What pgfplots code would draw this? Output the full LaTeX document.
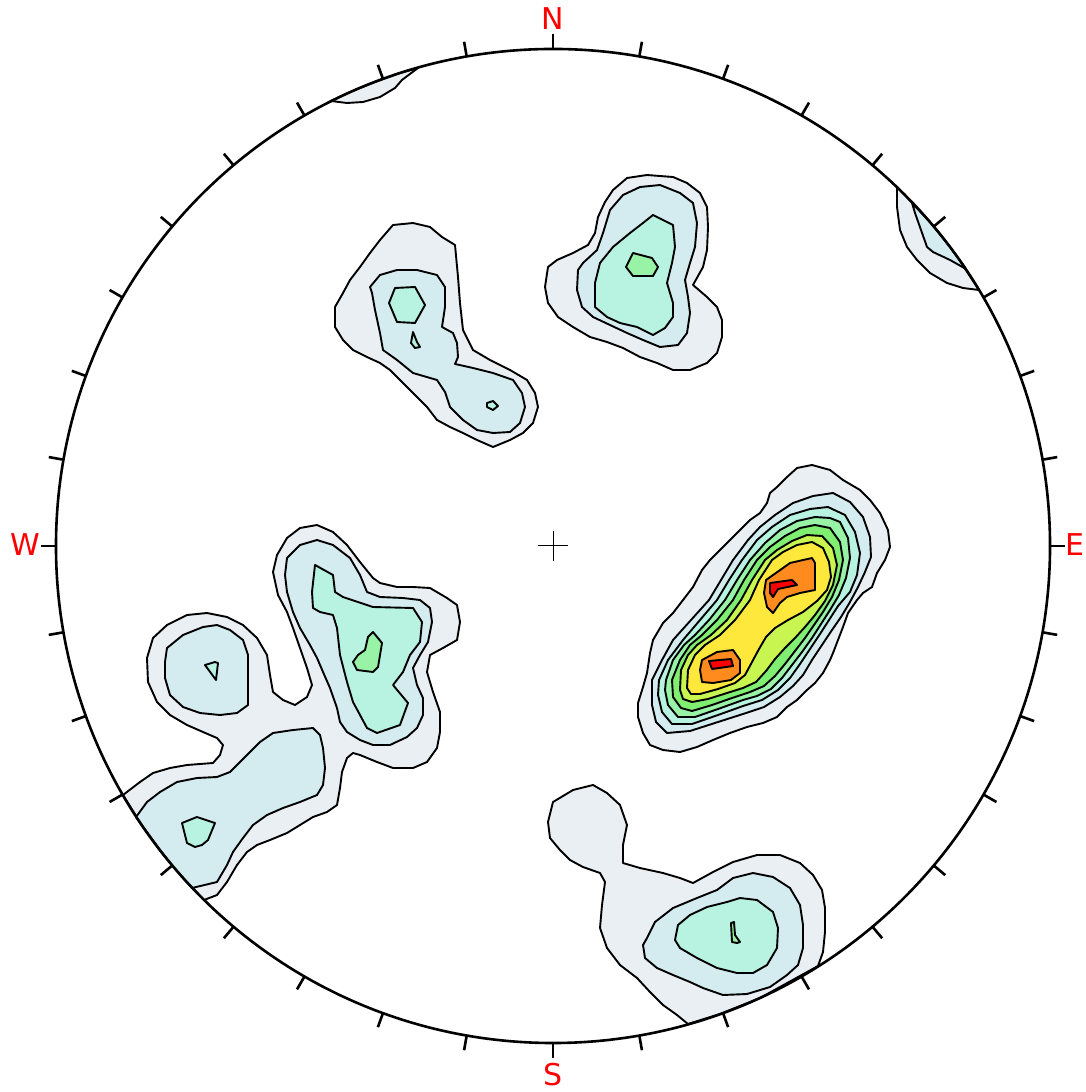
\documentclass[border=0pt]{standalone}
\usepackage{pgfplots}
\pgfplotsset{compat=1.18}
\usepackage{fontspec}
\setmainfont{DejaVu Sans}
\definecolor{cA}{RGB}{234,239,244}
\definecolor{cB}{RGB}{212,236,240}
\definecolor{cC}{RGB}{184,242,224}
\definecolor{cD}{RGB}{152,243,166}
\definecolor{cE}{RGB}{128,238,112}
\definecolor{cF}{RGB}{200,245,80}
\definecolor{cG}{RGB}{255,232,60}
\definecolor{cH}{RGB}{255,138,30}
\definecolor{cI}{RGB}{255,0,0}
\pgfplotsset{lev/.style={draw=black, line width=0.95bp, line join=round, mark=none}}
\begin{document}
\begin{tikzpicture}
\begin{axis}[name=ax, x=0.5bp, y=0.5bp, y dir=reverse,
  xmin=0, xmax=1086, ymin=0, ymax=1092, hide axis, clip=false]
% ---------- east blob ----------
\addplot[lev, fill=cA] coordinates {(812,465) (830,470) (843,480) (860,490) (870,500) (880,513) (888,530) (890,547) (885,560) (877,573) (872,587) (863,593) (857,600) (848,613) (843,627) (838,640) (833,653) (830,660) (823,673) (815,683) (807,690) (797,700) (787,707) (777,717) (763,723) (747,727) (730,733) (713,740) (697,747) (680,752) (663,750) (650,745) (643,733) (638,717) (638,703) (643,687) (647,673) (650,653) (653,640) (663,623) (673,613) (683,600) (693,587) (702,570) (710,560) (720,550) (730,540) (740,530) (750,520) (760,513) (767,503) (770,493) (777,487) (787,477) (797,468)} -- cycle;
\addplot[lev, fill=cB] coordinates {(813,496) (833,493) (850,502) (863,517) (870,537) (871,557) (865,572) (858,587) (850,602) (841,617) (832,630) (822,645) (812,660) (803,675) (793,686) (780,697) (764,707) (743,714) (718,722) (690,731) (667,733) (656,722) (652,705) (652,680) (662,660) (673,640) (691,620) (709,600) (721,580) (733,560) (748,540) (760,527) (775,515) (793,503)} -- cycle;
\addplot[lev, fill=cC] coordinates {(810,509) (828,507) (845,515) (855,532) (860,553) (857,575) (850,592) (838,606) (829,620) (820,634) (810,649) (800,664) (790,678) (778,690) (762,700) (743,706) (718,715) (692,724) (672,724) (662,712) (658,695) (659,680) (668,660) (683,640) (700,620) (717,600) (729,580) (742,560) (757,540) (772,527) (790,515)} -- cycle;
\addplot[lev, fill=cD] coordinates {(815,517) (830,518) (840,522) (848,538) (850,558) (846,578) (839,595) (830,610) (821,624) (812,638) (802,652) (792,665) (782,678) (771,689) (757,696) (743,700) (718,709) (695,717) (678,717) (668,705) (665,690) (666,680) (673,660) (684,645) (695,635) (709,620) (725,600) (737,580) (750,560) (765,543) (780,530) (797,521)} -- cycle;
\addplot[lev, fill=cE] coordinates {(815,525) (830,528) (840,542) (843,560) (839,580) (832,597) (823,612) (814,625) (805,638) (795,651) (785,664) (775,676) (764,686) (750,692) (732,698) (712,705) (692,711) (681,708) (673,697) (672,680) (680,660) (690,645) (702,635) (717,620) (733,600) (744,580) (757,560) (770,547) (785,536) (800,528)} -- cycle;
\addplot[lev, fill=cF] coordinates {(807,535) (822,536) (833,548) (837,565) (833,585) (825,601) (815,615) (805,627) (795,638) (785,648) (775,659) (766,671) (756,682) (743,688) (727,693) (708,699) (692,702) (683,699) (680,690) (681,670) (688,655) (697,645) (711,635) (727,620) (741,600) (752,580) (765,560) (777,550) (792,541)} -- cycle;
\addplot[lev, fill=cG] coordinates {(812,542) (823,548) (829,562) (831,577) (827,590) (817,601) (803,612) (788,620) (775,628) (766,637) (759,649) (752,662) (745,675) (735,683) (718,689) (700,694) (691,694) (687,688) (688,670) (695,655) (705,645) (720,635) (735,620) (750,600) (759,580) (772,560) (783,552) (797,545)} -- cycle;
\addplot[lev, fill=cH] coordinates {(766,580) (790,563) (812,558) (815,563) (815,590) (800,593) (787,597) (780,603) (773,613) (767,607) (764,593)} -- cycle;
\addplot[lev, fill=cH] coordinates {(702,660) (717,652) (733,650) (740,660) (740,673) (731,680) (713,683) (702,682) (700,670)} -- cycle;
\addplot[lev, fill=cI] coordinates {(770,583) (792,580) (797,585) (778,589) (773,597) (770,593)} -- cycle;
\addplot[lev, fill=cI] coordinates {(709,661) (731,659) (733,666) (712,669)} -- cycle;
% ---------- upper-left blob ----------
\addplot[lev, fill=cA] coordinates {(393,225) (413,223) (430,227) (442,237) (455,245) (458,277) (460,303) (463,330) (473,350) (490,360) (510,370) (527,380) (535,393) (538,407) (533,423) (523,433) (510,440) (493,447) (477,440) (463,433) (450,427) (437,420) (427,407) (417,397) (403,383) (390,370) (380,363) (367,357) (353,350) (343,340) (335,327) (335,307) (343,293) (350,280) (360,267) (370,253) (380,240)} -- cycle;
\addplot[lev, fill=cB] coordinates {(370,287) (380,275) (397,270) (417,270) (437,275) (445,287) (445,307) (442,327) (453,333) (457,343) (458,357) (455,364) (473,368) (493,373) (513,380) (522,393) (525,407) (520,423) (510,432) (493,433) (477,430) (463,420) (450,407) (445,392) (437,380) (413,373) (397,360) (383,350) (380,333) (375,310) (372,293)} -- cycle;
\addplot[lev, fill=cC] coordinates {(395,288) (415,287) (425,305) (415,323) (397,322) (389,303)} -- cycle;
\addplot[lev, fill=cC] coordinates {(413,332) (417,342) (420,347) (415,348) (411,343)} -- cycle;
\addplot[lev, fill=cC] coordinates {(487,403) (493,401) (498,406) (493,410) (487,407)} -- cycle;
% ---------- upper-centre blob ----------
\addplot[lev, fill=cA] coordinates {(627,178) (647,175) (673,177) (687,183) (700,193) (707,207) (708,227) (707,250) (703,267) (693,285) (707,297) (717,307) (722,320) (722,337) (717,353) (707,363) (690,370) (673,370) (657,363) (640,357) (623,348) (607,342) (590,337) (573,327) (558,317) (548,303) (545,287) (548,267) (557,260) (573,253) (588,245) (595,233) (598,217) (605,202) (613,190)} -- cycle;
\addplot[lev, fill=cB] coordinates {(623,195) (640,187) (660,185) (680,193) (693,203) (697,223) (695,247) (690,263) (685,280) (688,297) (690,313) (687,333) (678,345) (660,347) (643,340) (627,333) (610,325) (593,317) (582,307) (577,290) (578,270) (583,263) (597,250) (603,233) (610,210)} -- cycle;
\addplot[lev, fill=cC] coordinates {(653,215) (673,225) (675,247) (672,263) (667,283) (673,303) (673,317) (665,328) (653,335) (637,327) (620,323) (607,317) (595,307) (595,283) (600,263) (613,247) (630,233) (643,223)} -- cycle;
\addplot[lev, fill=cD] coordinates {(633,253) (652,258) (658,267) (653,276) (633,276) (626,267)} -- cycle;
% ---------- left complex ----------
\addplot[lev, fill=cA] coordinates {(123,795) (140,782) (153,773) (170,768) (187,765) (213,763) (220,755) (223,745) (217,738) (203,732) (187,725) (170,715) (157,702) (148,682) (147,658) (153,638) (167,625) (187,615) (207,613) (227,617) (243,625) (257,638) (267,655) (270,675) (273,692) (283,700) (295,705) (307,697) (312,685) (307,668) (300,648) (293,628) (287,612) (278,595) (273,572) (277,555) (287,538) (300,528) (317,525) (333,532) (347,545) (360,562) (373,578) (380,583) (397,587) (413,587) (430,588) (447,598) (457,605) (460,622) (457,640) (443,648) (430,655) (427,672) (433,692) (440,712) (440,732) (437,748) (427,762) (413,768) (393,768) (377,762) (360,755) (353,753) (347,758) (342,772) (340,788) (337,805) (327,812) (313,817) (300,825) (287,833) (270,840) (257,845) (247,852) (237,865) (227,882) (217,895) (204,900) (184,879) (162,853) (141,824)} -- cycle;
\addplot[lev, fill=cB] coordinates {(167,648) (183,635) (203,627) (217,625) (230,630) (243,640) (248,655) (248,675) (248,705) (237,713) (220,715) (200,713) (183,707) (170,695) (165,678) (165,662)} -- cycle;
\addplot[lev, fill=cC] coordinates {(205,665) (215,662) (218,663) (216,680)} -- cycle;
\addplot[lev, fill=cB] coordinates {(136,817) (147,802) (160,792) (177,782) (197,778) (217,777) (230,772) (247,755) (260,742) (273,733) (293,730) (313,728) (320,735) (323,748) (325,768) (323,785) (317,795) (300,802) (283,808) (267,815) (253,825) (243,838) (233,852) (227,865) (217,882) (192,888) (176,870) (160,850)} -- cycle;
\addplot[lev, fill=cC] coordinates {(182,823) (197,817) (215,823) (208,840) (202,845) (195,847) (187,843)} -- cycle;
\addplot[lev, fill=cB] coordinates {(287,558) (300,545) (317,540) (333,545) (350,558) (360,575) (367,592) (380,597) (403,598) (420,600) (430,608) (432,622) (428,642) (420,655) (413,668) (417,685) (423,698) (423,715) (417,728) (407,737) (390,745) (373,745) (360,740) (347,732) (340,722) (337,708) (330,688) (323,672) (317,658) (310,645) (300,628) (293,612) (287,592) (285,575)} -- cycle;
\addplot[lev, fill=cC] coordinates {(315,565) (333,575) (335,592) (343,597) (373,607) (413,608) (422,622) (420,642) (410,655) (403,672) (393,685) (408,703) (400,725) (377,733) (367,728) (360,715) (353,702) (347,682) (340,655) (337,628) (333,615) (320,612) (313,608) (312,592)} -- cycle;
\addplot[lev, fill=cD] coordinates {(368,637) (373,632) (382,643) (378,667) (373,672) (357,670) (353,662) (358,655) (365,650)} -- cycle;
% ---------- bottom blob ----------
\addplot[lev, fill=cA] coordinates {(553,802) (573,790) (593,785) (607,793) (620,805) (627,825) (623,845) (623,863) (640,868) (663,873) (680,878) (693,883) (713,872) (733,862) (757,855) (780,855) (800,863) (813,875) (822,890) (825,908) (825,932) (823,952) (818,966) (760,998) (720,1014) (688,1024) (677,1015) (663,1005) (650,992) (637,978) (620,965) (607,948) (600,928) (602,905) (605,882) (600,873) (583,867) (570,860) (560,850) (550,838) (548,822)} -- cycle;
\addplot[lev, fill=cB] coordinates {(647,938) (655,922) (673,908) (697,898) (717,890) (733,878) (753,873) (773,877) (790,888) (800,905) (803,925) (803,948) (798,965) (787,975) (770,987) (747,994) (723,995) (703,988) (690,982) (673,975) (657,968) (645,958) (643,945)} -- cycle;
\addplot[lev, fill=cC] coordinates {(678,925) (690,915) (707,907) (727,902) (740,898) (757,900) (773,912) (778,928) (777,948) (767,965) (753,973) (737,973) (717,968) (697,958) (680,948) (675,940)} -- cycle;
\addplot[lev, fill=cD] coordinates {(731,923) (734,922) (735,935) (740,942) (737,943) (732,942)} -- cycle;
% ---------- edge slivers ----------
\addplot[lev, fill=cA] coordinates {(331,101) (347,103) (363,102) (380,97) (395,88) (402,80) (410,74) (418,68) (400,73) (375,82) (350,92)} -- cycle;
\addplot[lev, fill=cA] coordinates {(897,187) (897,207) (900,230) (907,247) (917,260) (930,273) (947,283) (963,288) (979,290) (960,261) (940,234) (920,211)} -- cycle;
\addplot[lev, fill=cB] coordinates {(912,203) (915,213) (921,230) (927,247) (933,252) (950,260) (966,269) (950,247) (930,222)} -- cycle;
% ---------- frame ----------
\coordinate (C) at (axis cs:553,546);
\node[text=red, inner sep=0pt, font=\fontsize{15bp}{18bp}\selectfont] at (axis cs:553,19) {N};
\node[text=red, inner sep=0pt, font=\fontsize{15bp}{18bp}\selectfont] at (axis cs:553,1075) {S};
\node[text=red, inner sep=0pt, font=\fontsize{15bp}{18bp}\selectfont] at (axis cs:25,545) {W};
\node[text=red, inner sep=0pt, anchor=west, font=\fontsize{15bp}{18bp}\selectfont] at (axis cs:1065,545) {E};
\end{axis}
\draw[line width=1.3bp] (C) circle[radius=248.5bp];
\foreach \a in {0,10,...,350} \draw[line width=1.3bp, shift={(C)}] (\a:248.5bp) -- (\a:256bp);
\draw[line width=0.5bp, shift={(C)}] (-7.5bp,0) -- (7.5bp,0) (0,-7.5bp) -- (0,7.5bp);
\pgfresetboundingbox
\useasboundingbox (ax.south west) rectangle (ax.north east);
\end{tikzpicture}
\end{document}
